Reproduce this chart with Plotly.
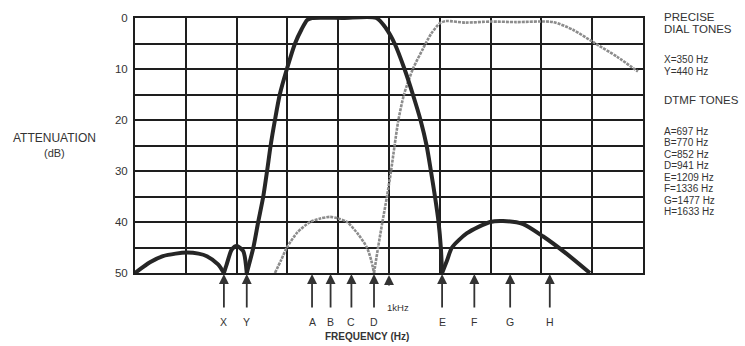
import plotly.graph_objects as go

# ---------------- data ----------------
freq_range = [0, 2000]
atten_ticks = [0, 5, 10, 15, 20, 25, 30, 35, 40, 45, 50]
atten_labels = ["0", "", "10", "", "20", "", "30", "", "40", "", "50"]

# dark (low-group band-pass) response
dark_freq = [0, 59, 110, 160, 205, 250, 283, 327, 350,
             361, 381, 400, 426, 440,
             466, 485, 505, 520, 534, 551, 570, 598, 630, 656, 678, 697,
             820, 950,
             988, 1022, 1061, 1094, 1124, 1148, 1165, 1181, 1195, 1204, 1209,
             1228, 1248, 1307, 1398, 1449, 1528, 1606, 1701, 1791]
dark_db = [50, 47.9, 46.7, 46.2, 46.0, 46.2, 46.7, 48.3, 50,
           48.3, 45.4, 44.7, 45.7, 50,
           45, 40, 35, 30, 25, 20, 15, 10, 5, 2.2, 0.4, 0,
           0, 0,
           2, 5, 10, 15, 20, 25, 30, 35, 40, 45, 50,
           47.6, 45, 42.2, 40, 39.8, 40.4, 42.8, 46.3, 50]

# grey (high-group high-pass) response
grey_freq = [551, 575, 598, 640, 689, 730, 768, 800, 835, 880, 913, 930, 941,
             957, 974, 992, 1008, 1022, 1037, 1059, 1094, 1134, 1167, 1201, 1224,
             1300, 1400, 1500, 1646, 1724, 1803, 1898, 1980]
grey_db = [50, 47.5, 45, 42, 40, 39.3, 39, 39.3, 40, 42.5, 45, 47.5, 50,
           45, 40, 35, 30, 25, 20, 15, 10, 6, 3, 1, 0.6,
           0.9, 0.7, 0.8, 0.8, 2.3, 4.7, 7.6, 10.5]

tone_names = ["X", "Y", "A", "B", "C", "D", "E", "F", "G", "H"]
tone_freqs = [350, 440, 697, 770, 852, 941, 1209, 1336, 1477, 1633]
khz_marker = 1000

dial_lines = ["X=350 Hz", "Y=440 Hz"]
dtmf_lines = ["A=697 Hz", "B=770 Hz", "C=852 Hz", "D=941 Hz",
              "E=1209 Hz", "F=1336 Hz", "G=1477 Hz", "H=1633 Hz"]

# ---------------- figure ----------------
FONT = "Liberation Sans, Arial, sans-serif"
TXT = "#333333"


def segments(f, a, null=50):
    segs, start = [], 0
    for i in range(1, len(a)):
        if a[i] == null and i > start:
            segs.append((f[start:i + 1], a[start:i + 1]))
            start = i
    if start < len(a) - 1:
        segs.append((f[start:], a[start:]))
    return segs


fig = go.Figure()
for fx, ay in segments(grey_freq, grey_db):
    fig.add_trace(go.Scatter(x=fx, y=ay, mode="lines",
                             line=dict(color="#8c8c8c", width=2.6, dash="3px,1px",
                                       shape="spline", smoothing=0.7),
                             showlegend=False, hoverinfo="skip"))
for fx, ay in segments(dark_freq, dark_db):
    fig.add_trace(go.Scatter(x=fx, y=ay, mode="lines",
                             line=dict(color="#262626", width=4,
                                       shape="spline", smoothing=0.7),
                             showlegend=False, hoverinfo="skip"))

# plot-area pixel geometry
L, R, T, B = 135, 102, 16, 73
W, H = 745, 346
pw, ph = W - L - R, H - T - B


def px(xpix):
    return (xpix - L) / pw


def py(ypix):
    return (T + ph - ypix) / ph


ann = []
for name, f in zip(tone_names, tone_freqs):
    ann.append(dict(x=f, y=50, xref="x", yref="y", text="", showarrow=True,
                    ax=0, ay=36, arrowhead=2, arrowsize=1.1, arrowwidth=1.8,
                    arrowcolor=TXT, standoff=1))
    ann.append(dict(x=f, y=50, xref="x", yref="y", text=name, showarrow=False,
                    yshift=-49, xanchor="center", yanchor="middle",
                    font=dict(size=10.5, color=TXT, family=FONT)))
ann.append(dict(x=khz_marker, y=50, xref="x", yref="y", text="", showarrow=True,
                ax=0, ay=14, arrowhead=2, arrowsize=1.1, arrowwidth=1.8,
                arrowcolor=TXT, standoff=2))
ann.append(dict(x=khz_marker, y=50, xref="x", yref="y", text="1kHz",
                showarrow=False, xanchor="left", yanchor="middle",
                xshift=-4, yshift=-34,
                font=dict(size=9.5, color=TXT, family=FONT)))

ann.append(dict(x=px(367), y=py(337), xref="paper", yref="paper",
                text="<b>FREQUENCY (Hz)</b>", showarrow=False,
                xanchor="center", yanchor="middle",
                font=dict(size=10, color=TXT, family=FONT)))
ann.append(dict(x=px(54), y=py(137), xref="paper", yref="paper",
                text="ATTENUATION", showarrow=False,
                xanchor="center", yanchor="middle",
                font=dict(size=12, color=TXT, family=FONT)))
ann.append(dict(x=px(54), y=py(152), xref="paper", yref="paper",
                text="(dB)", showarrow=False,
                xanchor="center", yanchor="middle",
                font=dict(size=11, color=TXT, family=FONT)))

right_items = [("PRECISE", 15, 11.5), ("DIAL TONES", 27, 11.5)]
right_items += [(t, y, 10) for t, y in zip(dial_lines, [58, 70])]
right_items += [("DTMF TONES", 99, 11.5)]
right_items += [(t, 130 + i * 11.6, 10) for i, t in enumerate(dtmf_lines)]
for t, y, s in right_items:
    ann.append(dict(x=px(662), y=py(y), xref="paper", yref="paper", text=t,
                    showarrow=False, xanchor="left", yanchor="middle",
                    font=dict(size=s, color=TXT, family=FONT)))

fig.update_layout(
    width=W, height=H,
    margin=dict(l=L, r=R, t=T, b=B, pad=0),
    paper_bgcolor="white", plot_bgcolor="white",
    showlegend=False,
    annotations=ann,
    font=dict(family=FONT, color=TXT),
)
fig.update_xaxes(range=freq_range, dtick=200, tick0=0, showgrid=True,
                 gridcolor="#1e1e1e", gridwidth=1.5, showticklabels=False,
                 ticks="", zeroline=False, showline=True, mirror=True,
                 linecolor="#1e1e1e", linewidth=2)
fig.update_yaxes(range=[50, 0], tickmode="array", tickvals=atten_ticks,
                 ticktext=atten_labels, showgrid=True, gridcolor="#1e1e1e",
                 gridwidth=1.5, ticks="", ticklabelstandoff=3,
                 tickfont=dict(size=11.5, color=TXT, family=FONT),
                 zeroline=False, showline=True, mirror=True,
                 linecolor="#1e1e1e", linewidth=2)

fig.write_html("out.html")
